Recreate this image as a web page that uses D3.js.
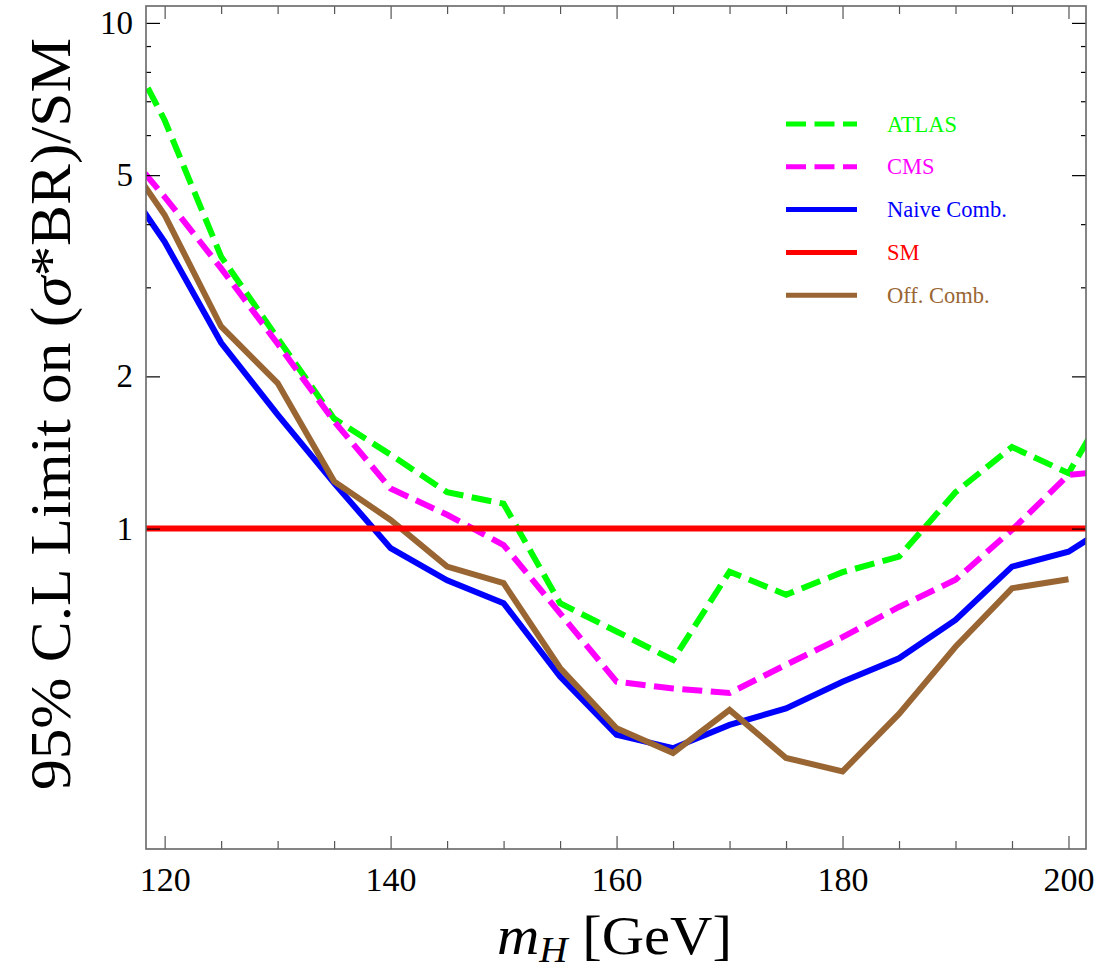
<!DOCTYPE html>
<html>
<head>
<meta charset="utf-8">
<script src="https://cdn.jsdelivr.net/npm/d3@7"></script>
<style>
  html, body { margin: 0; padding: 0; background: #fff; }
  svg { display: block; }
  text { font-family: "Liberation Serif", "DejaVu Serif", serif; }
</style>
</head>
<body>
<svg id="chart" width="1118" height="974"></svg>
<script>
// ---- data ----
const mass = [115,120,125,130,135,140,145,150,155,160,165,170,175,180,185,190,195,200,205];
const atlas = [10.5,6.42,3.45,2.38,1.65,1.40,1.18,1.12,0.712,0.626,0.55,0.822,0.74,0.82,0.88,1.18,1.45,1.287,2.0];
const cms   = [6.14,4.53,3.27,2.32,1.63,1.20,1.065,0.928,0.68,0.498,0.483,0.473,0.538,0.61,0.70,0.792,0.994,1.277,1.31];
const naive = [5.37,3.69,2.33,1.68,1.23,0.915,0.79,0.712,0.51,0.391,0.368,0.409,0.441,0.498,0.554,0.66,0.841,0.90,1.06];
const offMass = [115,120,125,130,135,140,145,150,155,160,165,170,175,180,185,190,195,200];
const off   = [6.05,4.17,2.51,1.94,1.24,1.04,0.841,0.78,0.53,0.403,0.36,0.438,0.352,0.331,0.43,0.584,0.762,0.794];
const smValue = 1;

const xMajorTicks = [120,140,160,180,200];
const xMinorTicks = [125,130,135,145,150,155,165,170,175,185,190,195];
const yMajorTicks = [1,2,5,10];
const yMinorTicks = [3,4,6,7,8,9];

const xDomain = [118.35, 201.55];
const yDomain = [0.2325, 10.8];

const seriesList = [
  {name:"ATLAS",       x: mass,    y: atlas, color:"#00ff00", dash:"20,8.5"},
  {name:"CMS",         x: mass,    y: cms,   color:"#ff00ff", dash:"20,8.5"},
  {name:"Naive Comb.", x: mass,    y: naive, color:"#0000ff", dash:null},
  {name:"SM",          x: xDomain, y: [smValue, smValue], color:"#ff0000", dash:null},
  {name:"Off. Comb.",  x: offMass, y: off,   color:"#996633", dash:null}
];
const drawOrder = ["ATLAS","CMS","Naive Comb.","Off. Comb.","SM"];

// ---- layout ----
const L = 146, R = 1086, T = 6, B = 849;
const svg = d3.select("#chart");
const SERIF = '"Liberation Serif", "DejaVu Serif", serif';

const x = d3.scaleLinear().domain(xDomain).range([L, R]);
const y = d3.scaleLog().domain(yDomain).range([B, T]);

svg.append("defs").append("clipPath").attr("id","clip")
  .append("rect").attr("x",L).attr("y",T).attr("width",R-L).attr("height",B-T);

const plot = svg.append("g").attr("clip-path","url(#clip)");
const line = d3.line().x(d => x(d[0])).y(d => y(d[1]));

drawOrder.forEach(nm => {
  const s = seriesList.find(q => q.name === nm);
  const pts = s.x.map((v,i) => [v, s.y[i]]);
  plot.append("path")
    .attr("d", line(pts))
    .attr("fill","none")
    .attr("stroke", s.color)
    .attr("stroke-width", 6)
    .attr("stroke-dasharray", s.dash)
    .attr("stroke-linejoin","miter");
});

// ---- axes ----
function styleAxis(g, color, fs) {
  g.attr("font-family", null).attr("font-size", null);
  g.select(".domain").remove();
  g.selectAll(".tick line").attr("stroke", color).attr("stroke-width", 1.2);
  g.selectAll(".tick text").style("font-size", fs + "px").attr("fill","#000")
    .style("font-family", SERIF);
}
// bottom
svg.append("g").attr("transform",`translate(0,${B})`)
  .call(d3.axisBottom(x).tickValues(xMajorTicks).tickSize(-13).tickPadding(18).tickFormat(d3.format("d")))
  .call(g => styleAxis(g, "#555", 34));
svg.append("g").attr("transform",`translate(0,${B})`)
  .call(d3.axisBottom(x).tickValues(xMinorTicks).tickSize(-8).tickFormat(""))
  .call(g => styleAxis(g, "#555", 34));
// top
svg.append("g").attr("transform",`translate(0,${T})`)
  .call(d3.axisTop(x).tickValues(xMajorTicks).tickSize(-13).tickFormat(""))
  .call(g => styleAxis(g, "#555", 34));
svg.append("g").attr("transform",`translate(0,${T})`)
  .call(d3.axisTop(x).tickValues(xMinorTicks).tickSize(-8).tickFormat(""))
  .call(g => styleAxis(g, "#555", 34));
// left
svg.append("g").attr("transform",`translate(${L},0)`)
  .call(d3.axisLeft(y).tickValues(yMajorTicks).tickSize(-14).tickPadding(13).tickFormat(d3.format("d")))
  .call(g => styleAxis(g, "#000", 33));
svg.append("g").attr("transform",`translate(${L},0)`)
  .call(d3.axisLeft(y).tickValues(yMinorTicks).tickSize(-5).tickFormat(""))
  .call(g => styleAxis(g, "#000", 33));
// right
svg.append("g").attr("transform",`translate(${R},0)`)
  .call(d3.axisRight(y).tickValues(yMajorTicks).tickSize(-14).tickFormat(""))
  .call(g => styleAxis(g, "#000", 33));
svg.append("g").attr("transform",`translate(${R},0)`)
  .call(d3.axisRight(y).tickValues(yMinorTicks).tickSize(-5).tickFormat(""))
  .call(g => styleAxis(g, "#000", 33));

// frame
svg.append("rect").attr("x",L).attr("y",T).attr("width",R-L).attr("height",B-T)
  .attr("fill","none").attr("stroke","#666").attr("stroke-width",1.6);

// ---- axis titles ----
const yl = svg.append("text")
  .attr("transform","translate(70,414) rotate(-90)")
  .attr("text-anchor","middle")
  .style("font-size", "56px")
  .attr("textLength", 752)
  .attr("lengthAdjust", "spacingAndGlyphs")
  .attr("fill","#000");
yl.append("tspan").text("95% C.L Limit on (");
yl.append("tspan").attr("font-style","italic").text("σ");
yl.append("tspan").text("*BR)/SM");

const xl = svg.append("text")
  .attr("x", 497).attr("y", 954)
  .style("font-size", "54px")
  .attr("textLength", 235)
  .attr("lengthAdjust", "spacingAndGlyphs")
  .attr("fill","#000");
xl.append("tspan").attr("font-style","italic").text("m");
xl.append("tspan").attr("font-style","italic").style("font-size","36px").attr("dy",8).text("H");
xl.append("tspan").attr("dy",-8).text(" [GeV]");

// ---- legend ----
const legend = svg.append("g");
const legX0 = 786, legX1 = 857, legTextX = 887, legY0 = 124, legDy = 42.8;
seriesList.forEach((s, i) => {
  const yy = legY0 + i*legDy;
  legend.append("line").attr("x1",legX0).attr("x2",legX1).attr("y1",yy).attr("y2",yy)
    .attr("stroke", s.color).attr("stroke-width",5).attr("stroke-dasharray", s.dash);
  legend.append("text").attr("x",legTextX).attr("y",yy+7.5)
    .style("font-size","22.5px").attr("fill", s.color).text(s.name);
});
</script>
</body>
</html>
